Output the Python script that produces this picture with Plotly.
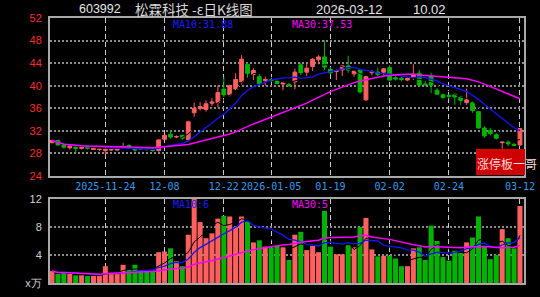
import pandas as pd
import plotly.graph_objects as go

# ---------------- data ----------------
_days = pd.bdate_range("2025-11-11", "2026-03-12")
_closed = {"2026-01-01", "2026-01-02", "2026-02-16", "2026-02-17",
           "2026-02-18", "2026-02-19", "2026-02-20", "2026-02-23"}
dates = [d.strftime("%Y-%m-%d") for d in _days if d.strftime("%Y-%m-%d") not in _closed]

opens = [29.9, 30.3, 29.4, 29.0, 29.1, 28.9, 29.3, 28.7, 28.7, 28.5,
         28.6, 28.6, 29.0, 29.4, 28.9, 28.9, 29.0, 28.9, 28.5, 30.5,
         31.4, 30.9, 31.2, 30.4, 35.2, 36.0, 35.8, 36.9, 37.0, 39.4,
         38.4, 39.4, 40.7, 43.8, 42.0, 41.6, 40.9, 41.1, 40.8, 40.3,
         40.2, 40.7, 43.7, 42.4, 43.4, 44.6, 45.1, 42.9, 42.5, 42.8,
         43.5, 42.1, 42.8, 37.5, 42.3, 42.4, 42.4, 43.2, 41.4, 41.3,
         41.0, 41.5, 42.2, 40.3, 41.7, 39.2, 38.4, 38.3, 38.5, 38.0,
         37.0, 37.0, 35.4, 32.5, 32.1, 31.3, 29.9, 30.0, 29.6, 29.5]
highs = [30.4, 30.4, 29.8, 29.6, 29.2, 29.2, 29.4, 29.0, 28.9, 28.9,
         29.3, 28.9, 29.9, 29.6, 29.0, 29.0, 29.1, 29.0, 30.5, 31.3,
         32.1, 31.2, 31.3, 33.8, 37.0, 37.1, 37.4, 37.8, 40.0, 41.6,
         40.2, 42.2, 45.4, 44.2, 43.1, 42.2, 41.6, 41.3, 41.2, 40.8,
         40.5, 43.0, 44.1, 44.1, 44.9, 45.4, 48.0, 43.3, 42.9, 43.6,
         45.3, 42.8, 43.0, 41.8, 42.8, 43.2, 43.1, 43.6, 41.7, 41.6,
         41.5, 43.8, 42.8, 41.0, 42.3, 39.6, 38.6, 38.5, 38.6, 38.2,
         39.5, 37.2, 35.5, 32.8, 32.5, 31.6, 30.1, 30.3, 29.9, 32.45]
lows = [29.8, 29.4, 28.9, 28.7, 28.0, 28.7, 28.7, 28.6, 28.4, 27.6,
        28.4, 28.4, 28.8, 28.9, 28.3, 28.6, 28.5, 28.3, 28.3, 30.4,
        30.6, 30.7, 30.4, 30.3, 34.5, 35.6, 35.4, 36.4, 36.2, 38.0,
        38.1, 39.2, 40.2, 41.4, 41.0, 40.0, 40.0, 40.6, 40.2, 39.2,
        39.8, 39.4, 41.9, 41.6, 42.6, 43.8, 42.8, 42.0, 41.0, 41.7,
        42.3, 41.6, 38.6, 37.3, 41.8, 41.6, 41.8, 40.8, 40.9, 40.8,
        40.8, 41.0, 39.9, 39.9, 38.7, 38.4, 37.7, 37.6, 36.6, 36.6,
        36.6, 35.2, 32.4, 30.8, 31.2, 30.5, 28.8, 29.3, 29.3, 29.3]
closes = [30.3, 29.5, 29.1, 29.3, 28.9, 29.1, 28.9, 29.0, 28.8, 28.8,
          28.7, 28.9, 29.2, 29.0, 28.6, 28.7, 28.7, 28.5, 30.4, 31.2,
          30.9, 31.0, 30.7, 33.6, 36.0, 36.3, 36.8, 37.1, 38.8, 38.4,
          40.0, 41.1, 44.7, 42.2, 42.7, 40.4, 41.1, 40.9, 40.4, 40.5,
          40.0, 42.4, 42.3, 43.1, 44.7, 45.1, 43.3, 42.3, 42.7, 43.5,
          42.8, 42.6, 38.9, 41.6, 42.5, 42.0, 43.0, 41.0, 41.2, 41.1,
          41.3, 41.9, 40.1, 40.2, 40.1, 38.5, 37.9, 38.1, 38.0, 37.4,
          37.5, 35.6, 32.5, 31.1, 31.5, 30.7, 30.0, 29.7, 29.45, 32.4]
volumes = [1.7, 1.3, 1.5, 1.3, 1.1, 1.1, 1.0, 1.0, 1.1, 2.4,
           1.4, 1.4, 2.6, 1.95, 2.6, 1.8, 1.8, 1.8, 4.4, 4.5,
           4.95, 3.1, 2.4, 6.9, 12.0, 8.7, 6.4, 7.1, 9.2, 9.6,
           9.5, 8.0, 9.5, 8.8, 5.8, 6.1, 5.2, 5.1, 5.3, 5.1,
           3.3, 6.9, 7.3, 4.7, 5.3, 4.4, 10.3, 5.2, 4.1, 4.1,
           5.4, 5.1, 8.0, 9.3, 4.8, 3.8, 3.9, 3.9, 3.5, 2.4,
           2.4, 4.95, 5.1, 3.3, 8.2, 6.0, 3.7, 3.2, 4.6, 4.3,
           5.8, 6.5, 9.5, 5.3, 3.4, 4.0, 7.7, 6.4, 4.95, 11.0]

tick_dates = ["2025-11-24", "2025-12-08", "2025-12-22", "2026-01-05",
              "2026-01-19", "2026-02-02", "2026-02-24", "2026-03-12"]
tick_labels = ["2025-11-24", "12-08", "12-22", "2026-01-05",
               "01-19", "02-02", "02-24", "03-12"]
price_ticks = [24, 28, 32, 36, 40, 44, 48, 52]
vol_ticks = [0, 4, 8, 12]
vol_tick_labels = ["x万", "4", "8", "12"]

title_code = "603992"
title_name = "松霖科技 -ε日K线图"
title_date = "2026-03-12"
title_value = "10.02"
price_ma_labels = ["MA10:31.88", "MA30:37.53"]
vol_ma_labels = ["MA10:6", "MA30:5"]
badge_text = "涨停板一哥"

# ---------------- derived ----------------
cs = pd.Series(closes)
vs = pd.Series(volumes)
ma5 = cs.rolling(5, min_periods=1).mean()
ma10 = cs.rolling(10, min_periods=1).mean()
ma30 = cs.rolling(30, min_periods=1).mean()
vma5 = vs.rolling(5, min_periods=1).mean()
vma10 = vs.rolling(10, min_periods=1).mean()
vma30 = vs.rolling(30, min_periods=1).mean()

RED = "#ff5f5f"
GREEN = "#00b400"
vol_colors = [RED if c >= o else GREEN for o, c in zip(opens, closes)]

fig = go.Figure()
fig.add_trace(go.Candlestick(
    x=dates, open=opens, high=highs, low=lows, close=closes,
    increasing=dict(line=dict(color=RED, width=1), fillcolor=RED),
    decreasing=dict(line=dict(color=GREEN, width=1), fillcolor=GREEN),
    xaxis="x", yaxis="y", showlegend=False))
for s, col, w in [(ma5, "#000000", 1), (ma10, "#1414ff", 1.3), (ma30, "#ff00ff", 1.5)]:
    fig.add_trace(go.Scatter(x=dates, y=s, mode="lines", line=dict(color=col, width=w),
                             xaxis="x", yaxis="y", showlegend=False))

fig.add_trace(go.Bar(x=dates, y=volumes, marker=dict(color=vol_colors, line=dict(width=0)),
                     xaxis="x2", yaxis="y2", showlegend=False))
for s, col, w in [(vma5, "#000000", 1), (vma10, "#1414ff", 1.3), (vma30, "#ff00ff", 1.5)]:
    fig.add_trace(go.Scatter(x=dates, y=s, mode="lines", line=dict(color=col, width=w),
                             xaxis="x2", yaxis="y2", showlegend=False))

L, R, T, B = 50, 16, 18, 14
W, H = 540, 297
ph = H - T - B
pw = W - L - R

def px_x(x):
    return (x - L) / pw

def px_y(y):
    return (H - B - y) / ph

xr = [-0.34, 79.68]
axis_common = dict(type="category", range=xr, tickvals=tick_dates, showgrid=True,
                   gridcolor="#c8c8c8", griddash="5px,3px", gridwidth=1,
                   showline=True, linecolor="#a8a8a8", linewidth=2, mirror=True,
                   ticks="", zeroline=False, fixedrange=True, automargin=False)

fig.update_layout(
    width=W, height=H, autosize=False,
    margin=dict(l=L, r=R, t=T, b=B, autoexpand=False),
    paper_bgcolor="#000000", plot_bgcolor="#000000",
    boxgap=0.08, bargap=0.15,
    xaxis=dict(axis_common, anchor="y", domain=[0, 1], ticktext=tick_labels, tickangle=0,
               tickfont=dict(family="DejaVu Sans Mono", size=10, color="#3a9ae8"),
               rangeslider=dict(visible=False)),
    xaxis2=dict(axis_common, anchor="y2", domain=[0, 1], showticklabels=False,
                matches="x"),
    yaxis=dict(domain=[px_y(176), 1], range=[24, 52], tickvals=price_ticks,
               tickfont=dict(family="Liberation Sans", size=11, color="#ff2a2a"),
               showgrid=True, gridcolor="#8c8c8c", griddash="2px,2px", gridwidth=1.5,
               showline=True, linecolor="#a8a8a8", linewidth=2, mirror=True,
               ticks="", ticklabelstandoff=4, zeroline=False, fixedrange=True),
    yaxis2=dict(domain=[0, px_y(199)], range=[0, 12], tickvals=vol_ticks,
                ticktext=vol_tick_labels,
                tickfont=dict(family="Liberation Sans", size=11, color="#d0d0d0"),
                showgrid=True, gridcolor="#8c8c8c", griddash="2px,2px", gridwidth=1.5,
                showline=True, linecolor="#a8a8a8", linewidth=2, mirror=True,
                ticks="", ticklabelstandoff=4, zeroline=False, fixedrange=True),
)

ann = []
def add_text(text, x_px, y_px, color, family, size, anchor="left"):
    ann.append(dict(text=text, x=px_x(x_px), y=px_y(y_px), xref="paper", yref="paper",
                    xanchor=anchor, yanchor="middle", showarrow=False, borderpad=0,
                    font=dict(family=family, size=size, color=color)))

add_text(title_code, 78, 9, "#e6e6e6", "Liberation Sans", 12.5)
add_text(title_name, 134, 9, "#d8d8d8", "Noto Sans CJK SC", 13.5)
add_text(title_date, 315, 9, "#e6e6e6", "Liberation Sans", 13)
add_text(title_value, 412, 9, "#e6e6e6", "Liberation Sans", 13)
add_text(price_ma_labels[0], 172, 24, "#1a1aff", "DejaVu Sans Mono", 10)
add_text(price_ma_labels[1], 291, 24, "#ff00ff", "DejaVu Sans Mono", 10)
add_text(vol_ma_labels[0], 172, 204, "#1a1aff", "DejaVu Sans Mono", 10)
add_text(vol_ma_labels[1], 291, 204, "#ff00ff", "DejaVu Sans Mono", 10)
add_text(badge_text, 538, 163, "#f2dada", "Noto Sans CJK SC", 12, anchor="right")

fig.update_layout(
    annotations=ann,
    shapes=[dict(type="rect", xref="paper", yref="paper", layer="above",
                 x0=px_x(476), x1=px_x(525), y0=px_y(175), y1=px_y(149),
                 fillcolor="#d00000", line=dict(width=0))],
)
fig.write_html("out.html", config={"responsive": False})
